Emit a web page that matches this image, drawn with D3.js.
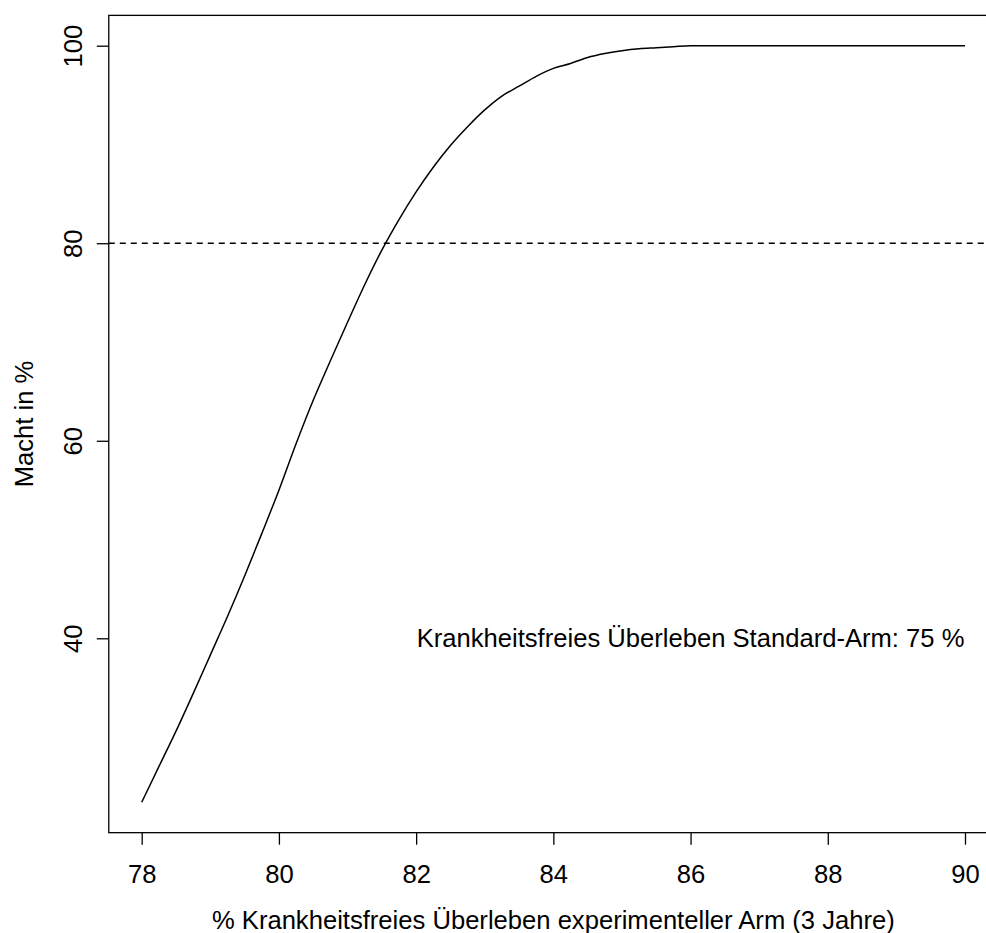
<!DOCTYPE html>
<html>
<head>
<meta charset="utf-8">
<script src="https://cdn.jsdelivr.net/npm/d3@7"></script>
<style>
    body { margin: 0; background: #fff; }
    text { font-family: "Liberation Sans", Arial, sans-serif; fill: #000; }
</style>
</head>
<body>
<svg id="chart"></svg>
<script>
    // survival rate of experimental arm (x) and power in % (y)
    var survival = [78, 78.25, 78.5, 78.75, 79, 79.25, 79.5, 79.75, 80, 80.25, 80.5, 80.75,
        81, 81.25, 81.5, 81.75, 82, 82.25, 82.5, 82.75, 83, 83.25, 83.5, 83.75,
        84, 84.25, 84.5, 84.75, 85, 85.25, 85.5, 85.75, 86, 87, 88, 89, 90];
    var power = [23.4, 27.0, 30.6, 34.4, 38.3, 42.2, 46.3, 50.6, 55.0, 59.7, 64.1, 68.1,
        72.0, 75.8, 79.3, 82.4, 85.2, 87.7, 89.9, 91.8, 93.5, 94.9, 95.9, 96.9,
        97.7, 98.2, 98.8, 99.2, 99.5, 99.7, 99.8, 99.9, 100, 100, 100, 100, 100];
    var xTicks = [78, 80, 82, 84, 86, 88, 90];
    var yTicks = [40, 60, 80, 100];
    var targetPower = 80;
    var xLabel = '% Krankheitsfreies Überleben experimenteller Arm (3 Jahre)';
    var yLabel = 'Macht in %';
    var note = 'Krankheitsfreies Überleben Standard-Arm: 75 %';

    var width = 986, height = 933;
    var fontSize = 25.6;

    var svg = d3.select('#chart')
        .attr('width', width)
        .attr('height', height);

    // scales fitted to the tick positions
    var xScale = d3.scaleLinear().domain([78, 90]).range([141.7, 965]);
    var yScale = d3.scaleLinear().domain([40, 100]).range([638.3, 45.7]);

    // R style 4% extension of the data range
    var xMin = 77.52, xMax = 90.48;
    var yMin = 20.32, yMax = 103.07;
    var plotLeft = xScale(xMin), plotRight = xScale(xMax);
    var plotTop = yScale(yMax), plotBottom = yScale(yMin);

    // dashed reference line at 80 %
    svg.append('line')
        .attr('x1', plotLeft)
        .attr('x2', plotRight)
        .attr('y1', yScale(targetPower))
        .attr('y2', yScale(targetPower))
        .attr('stroke', '#000')
        .attr('stroke-width', 1.3)
        .attr('stroke-dasharray', '6,5');

    // power curve
    var data = survival.map(function (d, i) { return [d, power[i]]; });
    var line = d3.line()
        .curve(d3.curveMonotoneX)
        .x(function (d) { return xScale(d[0]); })
        .y(function (d) { return yScale(d[1]); });
    svg.append('path')
        .datum(data)
        .attr('d', line)
        .attr('fill', 'none')
        .attr('stroke', '#000')
        .attr('stroke-width', 1.5);

    // box around plot
    svg.append('rect')
        .attr('x', plotLeft)
        .attr('y', plotTop)
        .attr('width', plotRight - plotLeft)
        .attr('height', plotBottom - plotTop)
        .attr('fill', 'none')
        .attr('stroke', '#000')
        .attr('stroke-width', 1.3);

    // x axis
    var xAxis = d3.axisBottom(xScale)
        .tickValues(xTicks)
        .tickSize(12)
        .tickPadding(0)
        .tickFormat(d3.format('d'));
    var xAxisGroup = svg.append('g')
        .attr('transform', 'translate(0,' + plotBottom + ')')
        .call(xAxis);
    xAxisGroup.select('.domain').remove();
    xAxisGroup.selectAll('.tick line').attr('stroke', '#000').attr('stroke-width', 1.3);
    xAxisGroup.selectAll('.tick text')
        .attr('y', 883 - plotBottom)
        .attr('dy', null)
        .style('font-size', fontSize + 'px')
        .style('font-family', '"Liberation Sans", Arial, sans-serif');

    // y axis with vertical labels
    var yAxis = d3.axisLeft(yScale)
        .tickValues(yTicks)
        .tickSize(12)
        .tickFormat(d3.format('d'));
    var yAxisGroup = svg.append('g')
        .attr('transform', 'translate(' + plotLeft + ',0)')
        .call(yAxis);
    yAxisGroup.select('.domain').remove();
    yAxisGroup.selectAll('.tick line').attr('stroke', '#000').attr('stroke-width', 1.3);
    yAxisGroup.selectAll('.tick text')
        .attr('x', null)
        .attr('dy', null)
        .attr('transform', 'translate(' + (82 - plotLeft) + ',0) rotate(-90)')
        .attr('text-anchor', 'middle')
        .style('font-size', fontSize + 'px')
        .style('font-family', '"Liberation Sans", Arial, sans-serif');

    // axis titles
    svg.append('text')
        .attr('x', (plotLeft + plotRight) / 2)
        .attr('y', 929)
        .attr('text-anchor', 'middle')
        .style('font-size', fontSize + 'px')
        .text(xLabel);

    svg.append('text')
        .attr('transform', 'translate(33,' + (plotTop + plotBottom) / 2 + ') rotate(-90)')
        .attr('text-anchor', 'middle')
        .style('font-size', fontSize + 'px')
        .text(yLabel);

    // annotation inside the plot
    svg.append('text')
        .attr('x', xScale(86))
        .attr('y', yScale(40))
        .attr('dy', 9)
        .attr('text-anchor', 'middle')
        .style('font-size', fontSize + 'px')
        .text(note);
</script>
</body>
</html>
